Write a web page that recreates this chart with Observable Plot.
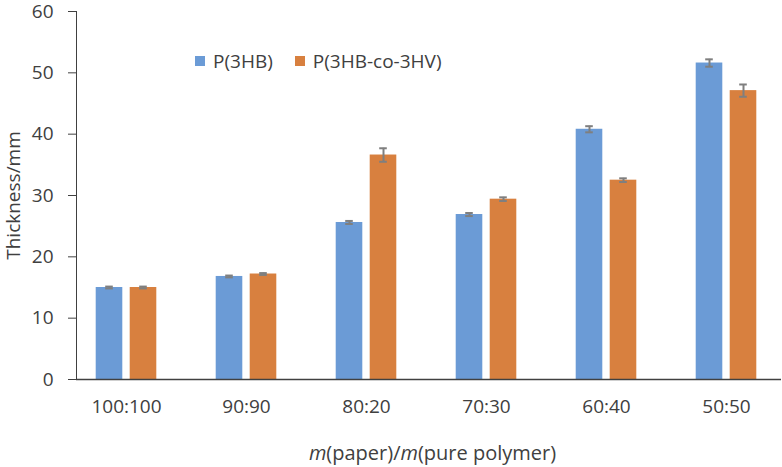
<!DOCTYPE html>
<html>
<head>
<meta charset="utf-8">
<script src="https://cdn.jsdelivr.net/npm/d3@7"></script>
<script src="https://cdn.jsdelivr.net/npm/@observablehq/plot@0.6"></script>
<style>
  html, body { margin: 0; padding: 0; background: #fff; }
  #wrap { position: relative; width: 782px; height: 467px; font-family: 'Open Sans', sans-serif; color: #404040; }
  #legend { position: absolute; left: 195px; top: 48px; font-size: 19px; display: flex; align-items: center; }
  .sw { display: inline-block; width: 10px; height: 10px; margin-right: 8px; }
  .item { display: flex; align-items: center; margin-right: 22px; }
  #xtitle { position: absolute; left: 80px; width: 705px; top: 439px; line-height: 28px; text-align: center; font-size: 20px; }
</style>
</head>
<body>
<div id="wrap">
  <div id="chart"></div>
  <div id="legend"></div>
  <div id="xtitle"><i>m</i>(paper)/<i>m</i>(pure polymer)</div>
</div>
<script>
const categories = ["100:100", "90:90", "80:20", "70:30", "60:40", "50:50"];
const seriesNames = ["P(3HB)", "P(3HB-co-3HV)"];
const p3hb = [15.0, 16.8, 25.6, 26.9, 40.8, 51.6];
const p3hbErr = [0.15, 0.15, 0.25, 0.25, 0.5, 0.6];
const p3hbv = [15.0, 17.2, 36.6, 29.4, 32.5, 47.1];
const p3hbvErr = [0.15, 0.15, 1.1, 0.3, 0.3, 1.0];
const yTicks = [0, 10, 20, 30, 40, 50, 60];
const colors = ["#6b9bd6", "#d8803f"];

const rows = [];
categories.forEach((c, i) => {
  rows.push({cat: c, series: seriesNames[0], value: p3hb[i], err: p3hbErr[i]});
  rows.push({cat: c, series: seriesNames[1], value: p3hbv[i], err: p3hbvErr[i]});
});
const s0 = rows.filter(d => d.series === seriesNames[0]);
const s1 = rows.filter(d => d.series === seriesNames[1]);

const errStroke = "#7f7f7f";
const chart = Plot.plot({
  width: 782,
  height: 420,
  marginTop: 11,
  marginBottom: 41,
  marginLeft: 76,
  marginRight: 1,
  style: {fontFamily: "'Open Sans', sans-serif", fontSize: "19px", color: "#404040", background: "white", overflow: "visible"},
  x: {domain: categories, range: [64.3, 786.7], padding: 0, label: null, tickSize: 0, tickPadding: 20},
  y: {domain: [0, 60], ticks: yTicks, tickSize: 8, tickPadding: 15, label: "Thickness/mm", labelAnchor: "center", labelOffset: 70, labelArrow: "none", line: true},
  marks: [
    Plot.barY(s0, {x: "cat", y: "value", fill: colors[0], insetLeft: 29.7, insetRight: 63.7}),
    Plot.barY(s1, {x: "cat", y: "value", fill: colors[1], insetLeft: 63.7, insetRight: 29.7}),
    Plot.ruleX(s0, {x: "cat", y1: d => d.value - d.err, y2: d => d.value + d.err, dx: -17, stroke: errStroke, strokeWidth: 2}),
    Plot.ruleX(s1, {x: "cat", y1: d => d.value - d.err, y2: d => d.value + d.err, dx: 17, stroke: errStroke, strokeWidth: 2}),
    Plot.tickY(s0, {x: "cat", y: d => d.value + d.err, insetLeft: 39.2, insetRight: 73.2, stroke: errStroke, strokeWidth: 2}),
    Plot.tickY(s0, {x: "cat", y: d => d.value - d.err, insetLeft: 39.2, insetRight: 73.2, stroke: errStroke, strokeWidth: 2}),
    Plot.tickY(s1, {x: "cat", y: d => d.value + d.err, insetLeft: 73.2, insetRight: 39.2, stroke: errStroke, strokeWidth: 2}),
    Plot.tickY(s1, {x: "cat", y: d => d.value - d.err, insetLeft: 73.2, insetRight: 39.2, stroke: errStroke, strokeWidth: 2}),
    Plot.ruleY([0], {stroke: "#404040", strokeWidth: 1.3})
  ]
});
document.getElementById("chart").appendChild(chart);

const legend = document.getElementById("legend");
seriesNames.forEach((name, i) => {
  const item = document.createElement("div");
  item.className = "item";
  const sw = document.createElement("span");
  sw.className = "sw";
  sw.style.background = colors[i];
  item.appendChild(sw);
  item.appendChild(document.createTextNode(name));
  legend.appendChild(item);
});
</script>
</body>
</html>
